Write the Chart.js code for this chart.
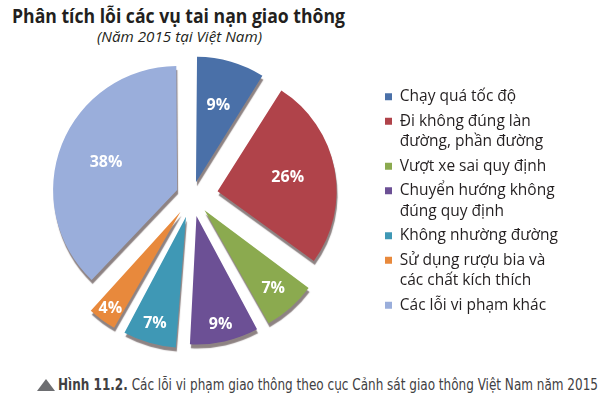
<!DOCTYPE html>
<html lang="vi">
<head>
<meta charset="utf-8">
<script src="https://cdn.jsdelivr.net/npm/chart.js@4.4.1/dist/chart.umd.min.js"></script>
<style>
  html, body { margin: 0; padding: 0; background: #fff; }
  body { width: 614px; height: 414px; position: relative; overflow: hidden; font-family: "Open Sans", sans-serif; }
  .fit { display: inline-block; white-space: nowrap; transform-origin: 0 50%; }
  #title { position: absolute; left: 12px; top: 3px; font-weight: bold; font-size: 19px; color: #231f20; }
  #subtitle { position: absolute; left: 97px; top: 27px; font-style: italic; font-size: 14px; color: #231f20; }
  #box { position: absolute; left: 0; top: 40px; width: 614px; height: 330px; }
  #tri { position: absolute; left: 37px; top: 379px; width: 0; height: 0;
         border-left: 9px solid transparent; border-right: 9px solid transparent; border-bottom: 12px solid #6d6e71; }
  #caption { position: absolute; left: 58px; top: 375px; font-size: 16px; color: #414042;
             font-family: "DejaVu Sans Condensed", "Open Sans", sans-serif; }
</style>
</head>
<body>
<div id="title" class="fit" data-w="333">Phân tích lỗi các vụ tai nạn giao thông</div>
<div id="subtitle" class="fit" data-w="165">(Năm 2015 tại Việt Nam)</div>
<div id="box"><canvas id="chart"></canvas></div>
<div id="tri"></div>
<div id="caption" class="fit" data-w="540"><b>Hình 11.2.</b> Các lỗi vi phạm giao thông theo cục Cảnh sát giao thông Việt Nam năm 2015</div>
<script>
// danh mục (mỗi mục là các dòng của chú thích)
const categories = [
  ['Chạy quá tốc độ'],
  ['Đi không đúng làn', 'đường, phần đường'],
  ['Vượt xe sai quy định'],
  ['Chuyển hướng không', 'đúng quy định'],
  ['Không nhường đường'],
  ['Sử dụng rượu bia và', 'các chất kích thích'],
  ['Các lỗi vi phạm khác']
];
// tỉ lệ %
const percents = [9, 26, 7, 9, 7, 4, 38];

const colors = ['#4a70a8', '#b0434a', '#8baa4f', '#6c5095', '#3f98b5', '#e8893c', '#9aaedb'];
const offsets = [57, 104, 76, 82, 86, 78, 64];
const labelPos = [0.62, 0.6, 0.78, 0.85, 0.83, 0.88, 0.6];

// co giãn chữ cho vừa bề ngang
document.querySelectorAll('.fit').forEach(el => {
  const w = el.getBoundingClientRect().width;
  el.style.transform = 'scaleX(' + (el.dataset.w / w) + ')';
});

// bóng đổ giả 3D
const shadow = {
  id: 'shadow',
  beforeDatasetDraw(chart) {
    const ctx = chart.ctx;
    ctx.save();
    ctx.shadowColor = 'rgba(50,30,30,0.55)';
    ctx.shadowOffsetX = 1;
    ctx.shadowOffsetY = 4;
    ctx.shadowBlur = 1;
  },
  afterDatasetDraw(chart) {
    chart.ctx.restore();
  }
};

// nhãn % trên lát
const sliceLabels = {
  id: 'sliceLabels',
  afterDatasetsDraw(chart) {
    const ctx = chart.ctx;
    const meta = chart.getDatasetMeta(0);
    ctx.save();
    ctx.fillStyle = '#fff';
    ctx.font = 'bold 16px "Open Sans", sans-serif';
    ctx.textAlign = 'center';
    ctx.textBaseline = 'middle';
    meta.data.forEach((arc, i) => {
      const p = arc.getProps(['x', 'y', 'startAngle', 'endAngle', 'outerRadius', 'circumference']);
      const mid = (p.startAngle + p.endAngle) / 2;
      const off = (arc.options.offset || 0) / 4;
      const fix = 1 - Math.sin(Math.min(Math.PI, p.circumference || 0));
      const r = off * (1 + fix) + labelPos[i] * p.outerRadius;
      ctx.fillText(percents[i] + '%', p.x + Math.cos(mid) * r, p.y + Math.sin(mid) * r);
    });
    ctx.restore();
  }
};

const chart = new Chart(document.getElementById('chart'), {
  type: 'pie',
  data: {
    labels: categories,
    datasets: [{
      data: percents,
      backgroundColor: colors,
      borderWidth: 0,
      offset: offsets,
      radius: 119
    }]
  },
  options: {
    responsive: true,
    maintainAspectRatio: false,
    animation: false,
    events: [],
    layout: { padding: { left: 3, top: 16, bottom: 34, right: 0 } },
    plugins: {
      tooltip: { enabled: false },
      legend: {
        position: 'right',
        align: 'start',
        title: { display: true, text: ' ', font: { size: 12, lineHeight: 1 }, padding: { top: 0, bottom: 17 } },
        labels: {
          boxWidth: 7,
          boxHeight: 7,
          padding: 4,
          color: '#231f20',
          font: { family: '"Open Sans", sans-serif', size: 15.5, lineHeight: 1.3226 }
        }
      }
    }
  },
  plugins: [shadow, sliceLabels]
});

// đặt chú thích bắt đầu ở x = 381
chart.options.layout.padding.right = Math.max(0, chart.legend.left - 381);
chart.update();
</script>
</body>
</html>
